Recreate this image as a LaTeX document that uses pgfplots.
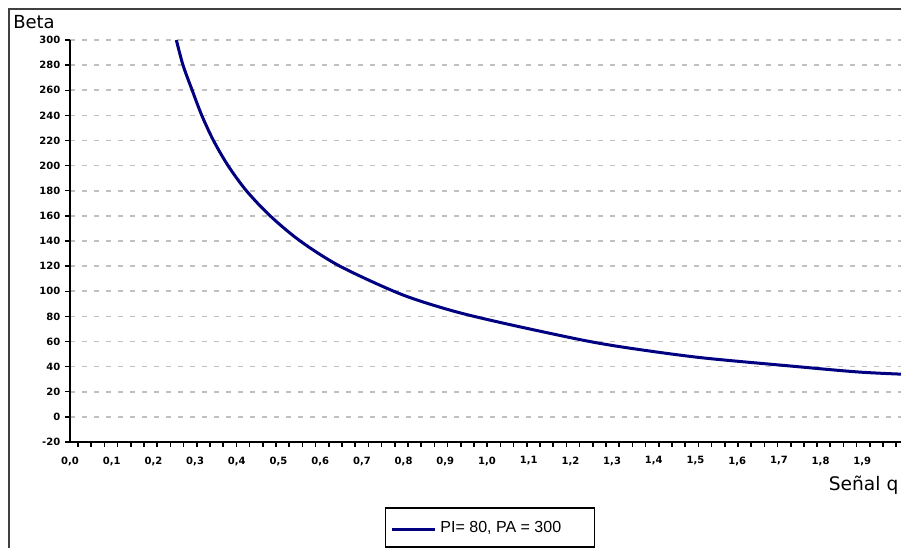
\documentclass[border=0pt]{standalone}
\usepackage{pgfplots}
\pgfplotsset{compat=1.18}
\usepackage{fontspec}
\setmainfont{DejaVu Sans}
\newfontfamily\legfont{Liberation Sans}
\definecolor{curve}{RGB}{0,0,128}
\definecolor{gridc}{RGB}{192,192,192}
\definecolor{frame}{RGB}{64,64,64}
\begin{document}
\begin{tikzpicture}[x=1pt,y=1pt]
\begin{axis}[
  scale only axis, width=623.25pt, height=301.5pt,
  xmin=0, xmax=1.9928, ymin=-20, ymax=300,
  axis x line=bottom, axis y line=left,
  axis line style={-, line width=1.5pt, black},
  tick align=outside,
  /pgf/number format/assume math mode=true,
  tick label style={font=\bfseries\fontsize{7.5}{9}\selectfont},
  ytick={-20,0,20,40,60,80,100,120,140,160,180,200,220,240,260,280,300},
  ytick style={line width=1pt, black},
  major tick length=3.75pt,
  ymajorgrids,
  grid style={gridc, line width=1.2pt, dash pattern=on 3.75pt off 5.25pt},
  xtick={0.0192,0.05085,...,1.99},
  xticklabels={},
  x tick style={line width=1.2pt, black},
  extra x ticks={0,0.1,0.2,0.3,0.4,0.5,0.6,0.7,0.8,0.9,1.0,1.1,1.2,1.3,1.4,1.5,1.6,1.7,1.8,1.9},
  extra x tick style={major tick length=0pt,
    xticklabel style={yshift=-7.5pt,/pgf/number format/.cd,fixed,fixed zerofill,precision=1,use comma}},
  legend style={at={(axis description cs:0.5054,-0.2127)}, anchor=center,
    draw=black, line width=1.2pt, fill=white, inner xsep=3.75pt, inner ysep=9.6pt,
    font=\legfont\fontsize{12}{14}\selectfont, nodes={inner sep=0pt, anchor=base}, column sep=3pt},
  legend image code/.code={\draw[#1] (0pt,2.25pt) -- (32.25pt,2.25pt);},
]
\addplot[curve, line width=2.25pt, smooth, tension=0.5] coordinates {
(0.255,300) (0.271,280) (0.293,260) (0.316,240) (0.344,220) (0.379,200)
(0.423,180) (0.480,160) (0.552,140) (0.647,120) (0.791,98) (0.911,85)
(1.031,75.2) (1.223,61.5) (1.336,55) (1.511,47.2) (1.727,40.5) (1.887,35.8) (1.993,34)
};
\addlegendentry{\makebox[111.75pt][l]{PI= 80, PA = 300}}
\end{axis}
\draw[frame, line width=1.5pt] (-45.75,-100) -- (-45.75,324.375) -- (700,324.375);
\node[anchor=base west, inner sep=0pt, font=\fontsize{13.5}{15}\selectfont] at (-42.75,310) {Beta};
\node[anchor=base east, inner sep=0pt, font=\fontsize{14}{16}\selectfont] at (621.5,-36.75) {Señal q};
\pgfresetboundingbox
\path[use as bounding box] (-52.5,-79.5) rectangle (623.25,331.5);
\end{tikzpicture}
\end{document}
